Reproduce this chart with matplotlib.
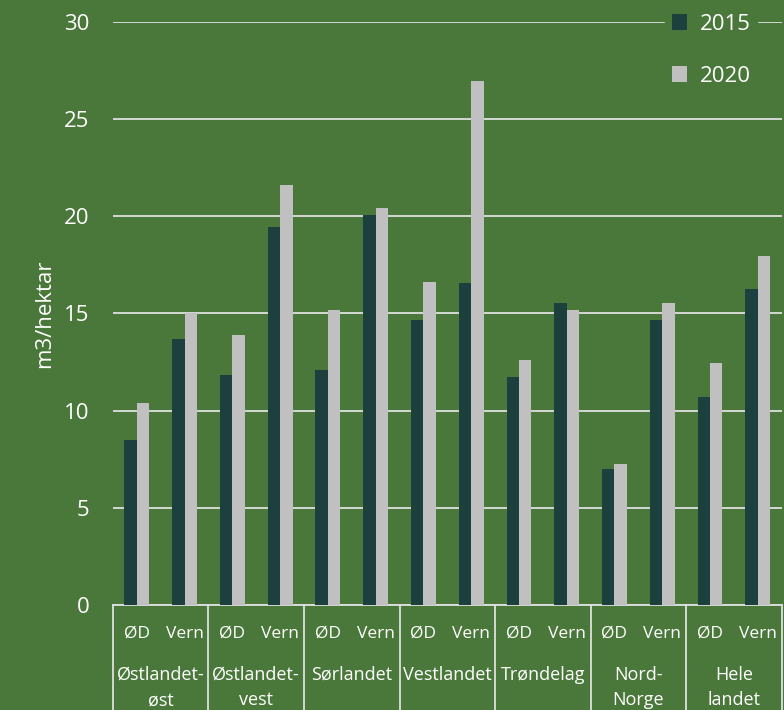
import numpy as np
import matplotlib.pyplot as plt
import matplotlib.transforms as mtransforms

plt.rcParams['font.family'] = ['Open Sans', 'DejaVu Sans']

regions = ["Østlandet-\nøst", "Østlandet-\nvest", "Sørlandet", "Vestlandet",
           "Trøndelag", "Nord-\nNorge", "Hele\nlandet"]
subcats = ["ØD", "Vern"]
vals_2015 = [8.5, 13.7, 11.85, 19.45, 12.1, 20.05, 14.65, 16.55,
             11.75, 15.55, 7.0, 14.65, 10.7, 16.25]
vals_2020 = [10.4, 15.0, 13.9, 21.6, 15.2, 20.45, 16.6, 26.95,
             12.6, 15.2, 7.25, 15.55, 12.45, 17.95]

bg = "#4a783a"
dark = "#1c403d"
light = "#c0c0c0"
line_col = "#e0e0e0"

fig = plt.figure(figsize=(7.84, 7.10), dpi=100, facecolor=bg)
ax = fig.add_axes([0.144, 0.148, 0.853, 0.821], facecolor=bg)

x = np.arange(len(vals_2015))
w = 0.26
ax.bar(x - w / 2, vals_2015, w, color=dark, label="2015", zorder=3)
ax.bar(x + w / 2, vals_2020, w, color=light, label="2020", zorder=3)

ax.set_xlim(-0.5, len(x) - 0.5)
ax.set_ylim(0, 30)
ax.set_yticks(range(0, 31, 5))
ax.yaxis.grid(True, color=line_col, linewidth=1.3, zorder=0)
ax.tick_params(axis='y', length=0, pad=17, labelsize=16, labelcolor='white')
ax.tick_params(axis='x', length=0, labelbottom=False)
for s in ['top', 'right', 'left']:
    ax.spines[s].set_visible(False)
ax.spines['bottom'].set_color(line_col)
ax.spines['bottom'].set_linewidth(1.3)
ax.set_ylabel("m3/hektar", fontsize=16, color='white', labelpad=6)

# hierarchical category axis
trans = mtransforms.blended_transform_factory(ax.transData, ax.transAxes)
for i in x:
    ax.text(i, -0.05, subcats[i % 2], transform=trans, ha='center', va='center',
            fontsize=12.5, color='white')
for g, name in enumerate(regions):
    ax.text(2 * g + 0.5, -0.104, name, transform=trans, ha='center', va='top',
            fontsize=13, color='white', linespacing=1.55)
for b in np.arange(-0.5, len(x), 2):
    ax.plot([b, b], [0, -0.2], transform=trans, color=line_col, linewidth=1.3,
            clip_on=False)

leg = ax.legend(loc='upper right', bbox_to_anchor=(0.98, 1.045), frameon=True,
                facecolor=bg, edgecolor=bg, framealpha=1, fontsize=16,
                labelcolor='white', handlelength=0.7, handleheight=0.7,
                handletextpad=0.55, labelspacing=1.4, borderpad=0.3)
leg.set_zorder(5)

fig.savefig("out.png", dpi=100, facecolor=bg)
